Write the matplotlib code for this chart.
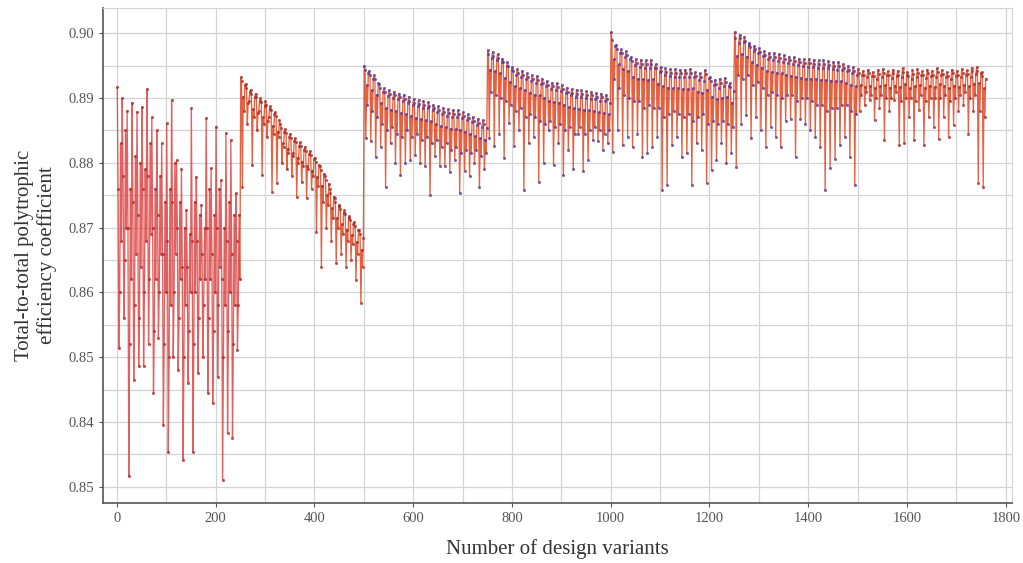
import numpy as np
import matplotlib
matplotlib.use("Agg")
import matplotlib.pyplot as plt
from matplotlib.ticker import MultipleLocator

# efficiency values in units of 1e-4 (6 points per 10 variants)
block1 = [8917, 8760, 8514, 8600, 8830, 8680, 8900, 8780, 8560, 8650, 8850, 8700,
          8880, 8700, 8316, 8520, 8760, 8620, 8893, 8740, 8465, 8580, 8810, 8660,
          8879, 8720, 8486, 8560, 8800, 8640, 8886, 8760, 8486, 8600, 8790, 8680,
          8914, 8780, 8520, 8620, 8830, 8690, 8870, 8700, 8445, 8540, 8760, 8620,
          8850, 8720, 8530, 8600, 8780, 8660, 8830, 8660, 8396, 8520, 8740, 8600,
          8861, 8680, 8353, 8500, 8760, 8580, 8897, 8740, 8500, 8600, 8800, 8660,
          8804, 8700, 8480, 8560, 8740, 8620, 8790, 8640, 8342, 8500, 8700, 8580,
          8727, 8640, 8460, 8540, 8690, 8600, 8884, 8680, 8354, 8520, 8740, 8600,
          8778, 8680, 8476, 8560, 8720, 8620, 8735, 8660, 8500, 8580, 8700, 8620,
          8869, 8700, 8445, 8560, 8760, 8620, 8792, 8660, 8430, 8540, 8720, 8600,
          8856, 8700, 8470, 8580, 8760, 8640, 8773, 8620, 8311, 8500, 8700, 8580,
          8846, 8680, 8383, 8540, 8740, 8600, 8835, 8660, 8376, 8520, 8720, 8580,
          8753, 8680, 8511, 8580, 8720, 8620]
block2 = [8932, 8926, 8763, 8902, 8880, 8920, 8922, 8916, 8860, 8892, 8895, 8910,
          8913, 8907, 8796, 8883, 8870, 8901, 8907, 8901, 8850, 8877, 8880, 8895,
          8900, 8894, 8781, 8870, 8860, 8888, 8895, 8889, 8840, 8865, 8870, 8883,
          8887, 8881, 8755, 8857, 8845, 8875, 8878, 8872, 8769, 8848, 8840, 8866,
          8860, 8854, 8800, 8830, 8825, 8848, 8852, 8846, 8790, 8822, 8815, 8840,
          8845, 8839, 8780, 8815, 8810, 8833, 8838, 8832, 8747, 8808, 8800, 8826,
          8832, 8826, 8770, 8802, 8795, 8820, 8825, 8819, 8745, 8795, 8790, 8813,
          8818, 8812, 8760, 8788, 8780, 8806, 8808, 8802, 8693, 8778, 8765, 8796,
          8795, 8789, 8639, 8765, 8740, 8783, 8780, 8774, 8700, 8750, 8735, 8768,
          8760, 8754, 8680, 8730, 8715, 8748, 8745, 8739, 8645, 8715, 8700, 8733,
          8735, 8729, 8660, 8705, 8690, 8723, 8727, 8721, 8640, 8697, 8680, 8715,
          8718, 8712, 8650, 8688, 8675, 8706, 8708, 8702, 8619, 8678, 8660, 8696,
          8696, 8690, 8584, 8666, 8640, 8684]
block3 = [8950, 8944, 8838, 8920, 8890, 8938, 8942, 8936, 8833, 8912, 8880, 8930,
          8935, 8929, 8809, 8905, 8870, 8923, 8922, 8916, 8825, 8892, 8860, 8910,
          8915, 8909, 8763, 8885, 8850, 8903, 8912, 8906, 8830, 8882, 8855, 8900,
          8910, 8904, 8800, 8880, 8845, 8898, 8907, 8901, 8781, 8877, 8840, 8895,
          8905, 8899, 8800, 8875, 8850, 8893, 8902, 8896, 8804, 8872, 8840, 8890,
          8899, 8893, 8812, 8869, 8845, 8887, 8897, 8891, 8800, 8867, 8835, 8885,
          8896, 8890, 8795, 8866, 8840, 8884, 8894, 8888, 8750, 8864, 8830, 8882,
          8890, 8884, 8810, 8860, 8835, 8878, 8887, 8881, 8795, 8857, 8825, 8875,
          8885, 8879, 8795, 8855, 8830, 8873, 8883, 8877, 8786, 8853, 8820, 8871,
          8882, 8876, 8805, 8852, 8825, 8870, 8881, 8875, 8753, 8851, 8815, 8869,
          8878, 8872, 8788, 8848, 8820, 8866, 8875, 8869, 8780, 8845, 8815, 8863,
          8871, 8865, 8800, 8841, 8820, 8859, 8868, 8862, 8763, 8838, 8810, 8856,
          8866, 8860, 8790, 8836, 8815, 8854]
block4 = [8974, 8968, 8838, 8944, 8910, 8962, 8971, 8965, 8826, 8941, 8905, 8959,
          8968, 8962, 8845, 8938, 8900, 8956, 8961, 8955, 8807, 8931, 8895, 8949,
          8955, 8949, 8861, 8925, 8890, 8943, 8948, 8942, 8826, 8918, 8880, 8936,
          8945, 8939, 8850, 8915, 8885, 8933, 8942, 8936, 8758, 8912, 8870, 8930,
          8938, 8932, 8830, 8908, 8875, 8926, 8935, 8929, 8840, 8905, 8870, 8923,
          8934, 8928, 8771, 8904, 8865, 8922, 8930, 8924, 8800, 8900, 8860, 8918,
          8926, 8920, 8850, 8896, 8865, 8914, 8924, 8918, 8797, 8894, 8855, 8912,
          8923, 8917, 8830, 8893, 8860, 8911, 8920, 8914, 8781, 8890, 8850, 8908,
          8916, 8910, 8820, 8886, 8855, 8904, 8914, 8908, 8790, 8884, 8845, 8902,
          8913, 8907, 8845, 8883, 8855, 8901, 8912, 8906, 8787, 8882, 8845, 8900,
          8911, 8905, 8805, 8881, 8850, 8899, 8910, 8904, 8835, 8880, 8855, 8898,
          8908, 8902, 8833, 8878, 8850, 8896, 8907, 8901, 8820, 8877, 8845, 8895,
          8905, 8899, 8830, 8875, 8850, 8893]
block5 = [9002, 8990, 8817, 8960, 8930, 8980, 8982, 8976, 8850, 8952, 8915, 8970,
          8975, 8969, 8827, 8945, 8905, 8963, 8972, 8966, 8840, 8942, 8900, 8960,
          8963, 8957, 8825, 8933, 8895, 8951, 8960, 8954, 8845, 8930, 8895, 8948,
          8959, 8953, 8809, 8929, 8885, 8947, 8958, 8952, 8815, 8928, 8890, 8946,
          8959, 8953, 8825, 8929, 8885, 8947, 8952, 8946, 8840, 8922, 8885, 8940,
          8948, 8942, 8758, 8918, 8870, 8936, 8946, 8940, 8766, 8916, 8875, 8934,
          8945, 8939, 8827, 8915, 8880, 8933, 8945, 8939, 8840, 8915, 8875, 8933,
          8944, 8938, 8809, 8914, 8870, 8932, 8944, 8938, 8815, 8914, 8875, 8932,
          8945, 8939, 8766, 8915, 8865, 8933, 8940, 8934, 8830, 8910, 8870, 8928,
          8938, 8932, 8820, 8908, 8875, 8926, 8943, 8937, 8769, 8913, 8860, 8931,
          8932, 8926, 8789, 8902, 8865, 8920, 8928, 8922, 8804, 8898, 8860, 8916,
          8930, 8924, 8830, 8900, 8865, 8918, 8931, 8925, 8800, 8901, 8860, 8919,
          8923, 8917, 8815, 8893, 8855, 8911]
block6 = [9002, 8992, 8794, 8965, 8935, 8985, 8998, 8992, 8860, 8968, 8930, 8986,
          8994, 8988, 8874, 8964, 8935, 8982, 8985, 8979, 8838, 8955, 8920, 8973,
          8981, 8975, 8870, 8951, 8925, 8969, 8977, 8971, 8850, 8947, 8915, 8965,
          8972, 8966, 8825, 8942, 8905, 8960, 8970, 8964, 8855, 8940, 8910, 8958,
          8969, 8963, 8840, 8939, 8905, 8957, 8968, 8962, 8824, 8938, 8900, 8956,
          8966, 8960, 8865, 8936, 8905, 8954, 8964, 8958, 8868, 8934, 8905, 8952,
          8963, 8957, 8809, 8933, 8895, 8951, 8961, 8955, 8868, 8931, 8900, 8949,
          8960, 8954, 8860, 8930, 8900, 8948, 8960, 8954, 8850, 8930, 8895, 8948,
          8959, 8953, 8840, 8929, 8890, 8947, 8958, 8952, 8825, 8928, 8890, 8946,
          8958, 8952, 8758, 8928, 8880, 8946, 8957, 8951, 8792, 8927, 8885, 8945,
          8956, 8950, 8806, 8926, 8885, 8944, 8956, 8950, 8827, 8926, 8890, 8944,
          8953, 8947, 8840, 8923, 8890, 8941, 8950, 8944, 8809, 8920, 8880, 8938,
          8948, 8942, 8766, 8918, 8875, 8936]
block7 = [8945, 8939, 8880, 8920, 8905, 8935, 8942, 8936, 8890, 8917, 8910, 8932,
          8944, 8938, 8897, 8919, 8905, 8934, 8940, 8934, 8866, 8915, 8900, 8930,
          8943, 8937, 8885, 8918, 8905, 8933, 8945, 8939, 8835, 8920, 8900, 8935,
          8941, 8935, 8880, 8916, 8900, 8931, 8944, 8938, 8897, 8919, 8910, 8934,
          8942, 8936, 8827, 8917, 8895, 8932, 8946, 8940, 8830, 8921, 8900, 8936,
          8940, 8934, 8870, 8915, 8900, 8930, 8943, 8937, 8835, 8918, 8895, 8933,
          8945, 8939, 8882, 8920, 8905, 8935, 8941, 8935, 8827, 8916, 8895, 8931,
          8944, 8938, 8870, 8919, 8900, 8934, 8942, 8936, 8855, 8917, 8900, 8932,
          8946, 8940, 8837, 8921, 8900, 8936, 8943, 8937, 8870, 8918, 8905, 8933,
          8940, 8934, 8840, 8915, 8895, 8930, 8944, 8938, 8858, 8919, 8900, 8934,
          8942, 8936, 8880, 8917, 8905, 8932, 8945, 8939, 8890, 8920, 8910, 8935,
          8943, 8937, 8845, 8918, 8900, 8933, 8947, 8941, 8880, 8922, 8905, 8937,
          8948, 8942, 8769, 8923, 8880, 8938, 8940, 8934, 8763, 8915, 8870, 8930]

blocks = [block1, block2, block3, block4, block5, block6, block7]
line_colors = ["#dc4545", "#e0461f", "#e0461f", "#e0461f", "#e0461f", "#e0461f", "#df4a2a"]
marker_colors = ["#b02a2a", "#a8302e", "#5e3a98", "#5e3a98", "#5e3a98", "#5e3a98", "#a8302e"]

ytick_vals = [0.90, 0.89, 0.88, 0.87, 0.86, 0.85, 0.84, 0.83]
ytick_labels = ["0.90", "0.89", "0.88", "0.87", "0.86", "0.85", "0.84", "0.85"]
xtick_vals = [0, 200, 400, 600, 800, 1000, 1200, 1400, 1600, 1800]

plt.rcParams['font.family'] = ['Liberation Serif', 'DejaVu Serif']

eff = np.concatenate([np.array(b) for b in blocks]) / 10000.0
variants = np.arange(len(eff)) * (10.0 / 6.0) + 0.83

fig = plt.figure(figsize=(10.23, 5.63), dpi=100)
ax = fig.add_axes([0.1007, 0.1066, 0.8883, 0.8792])

start = 0
for b, lc, mc in zip(blocks, line_colors, marker_colors):
    n = len(b)
    # include the joining point from the previous block
    s0 = max(start - 1, 0)
    ax.plot(variants[s0:start + n], eff[s0:start + n], color=lc, lw=0.95,
            alpha=0.85, zorder=3)
    ax.plot(variants[start:start + n], eff[start:start + n], ls="none", marker="o",
            ms=2.2, mfc=mc, mec="none", alpha=0.8, zorder=4)
    start += n

ax.set_xlim(-28, 1812)
ax.set_ylim(0.8275, 0.9039)
ax.set_xticks(xtick_vals)
ax.set_yticks(ytick_vals)
ax.set_yticklabels(ytick_labels)
ax.xaxis.set_minor_locator(MultipleLocator(100))
ax.yaxis.set_minor_locator(MultipleLocator(0.005))
ax.grid(which="both", color="#d4d4d4", lw=0.9, zorder=0)
ax.set_axisbelow(True)

ax.tick_params(which="major", length=3, color="#555555", labelsize=10.5,
               labelcolor="#555555")
ax.tick_params(which="minor", length=0)
for s in ["left", "bottom"]:
    ax.spines[s].set_color("#555555")
    ax.spines[s].set_linewidth(1.2)
for s in ["top", "right"]:
    ax.spines[s].set_color("#d4d4d4")

ax.set_xlabel("Number of design variants", fontsize=15, color="#333333", labelpad=10)
ax.set_ylabel("Total-to-total polytrophic\nefficiency coefficient", fontsize=15,
              color="#333333", labelpad=8, linespacing=1.2)

fig.savefig("out.png", dpi=100)
